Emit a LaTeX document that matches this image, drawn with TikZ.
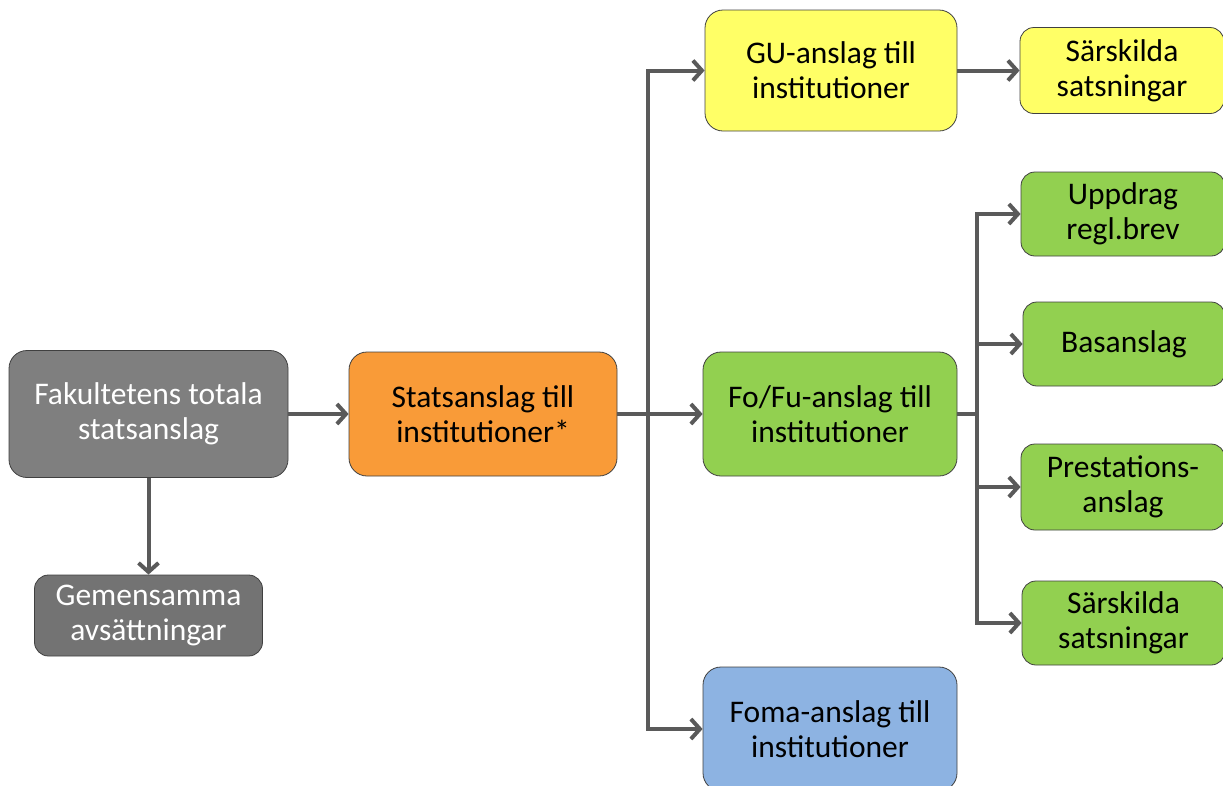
\documentclass[tikz,border=0pt]{standalone}
\usepackage{fontspec}
\setmainfont{Carlito}
\usetikzlibrary{arrows.meta}
\definecolor{linegray}{HTML}{5A5A5A}
\definecolor{bordergray}{HTML}{404040}
\definecolor{grayA}{HTML}{7F7F7F}
\definecolor{grayB}{HTML}{737373}
\definecolor{orangeF}{HTML}{F99B38}
\definecolor{yellowF}{HTML}{FFFF66}
\definecolor{greenF}{HTML}{92D050}
\definecolor{blueF}{HTML}{8DB3E2}
\begin{document}
\begin{tikzpicture}[x=1pt,y=-1pt,
  box/.style={draw=bordergray, line width=0.8pt, rounded corners=18pt, align=center,
    font=\fontsize{31.5}{35}\selectfont, inner sep=0pt},
  smallbox/.style={box, rounded corners=14pt},
  wire/.style={draw=linegray, line width=4pt},
  conn/.style={wire, -{Straight Barb[length=9pt,width=20pt]}}]
\useasboundingbox (0,0) rectangle (1223,785);
% nodes
\node[box, fill=grayA, text=white, minimum width=279pt, minimum height=127pt] (fak) at (148.5,414) {Fakultetens totala\\statsanslag};
\node[smallbox, fill=grayB, text=white, minimum width=228pt, minimum height=81pt] (gem) at (148.5,615.5) {Gemensamma\\avsättningar};
\node[box, fill=orangeF, minimum width=268pt, minimum height=124pt] (stat) at (483,414) {Statsanslag till\\institutioner*};
\node[box, fill=yellowF, minimum width=252pt, minimum height=121pt] (gu) at (831,70.5) {GU-anslag till\\institutioner};
\node[smallbox, fill=yellowF, minimum width=204pt, minimum height=86pt] (sar1) at (1122,70.5) {Särskilda\\satsningar};
\node[box, fill=greenF, minimum width=254pt, minimum height=124pt] (fofu) at (830,414) {Fo/Fu-anslag till\\institutioner};
\node[box, fill=blueF, minimum width=254pt, minimum height=124pt] (foma) at (830,729) {Foma-anslag till\\institutioner};
\node[smallbox, fill=greenF, minimum width=204pt, minimum height=84pt] (upp) at (1123,214) {Uppdrag\\regl.brev};
\node[smallbox, fill=greenF, minimum width=202pt, minimum height=84pt] (bas) at (1124,344) {Basanslag};
\node[smallbox, fill=greenF, minimum width=204pt, minimum height=86pt] (pre) at (1123,487) {Prestations-\\anslag};
\node[smallbox, fill=greenF, minimum width=203pt, minimum height=84pt] (sar2) at (1123.5,623) {Särskilda\\satsningar};
% junctions
\coordinate (t1) at (648,414);
\coordinate (t2) at (977,414);
% connectors
\draw[conn] (fak) -- (stat);
\draw[conn] (fak) -- (gem);
\draw[conn] (stat) -- (fofu);
\draw[conn] (t1) |- (gu.west);
\draw[conn] (t1) |- (foma.west);
\draw[conn] (gu) -- (sar1);
\draw[wire] (fofu.east) -- (t2);
\draw[conn] (t2) |- (upp.west);
\draw[conn] (t2) |- (bas.west);
\draw[conn] (t2) |- (pre.west);
\draw[conn] (t2) |- (sar2.west);
\end{tikzpicture}
\end{document}
